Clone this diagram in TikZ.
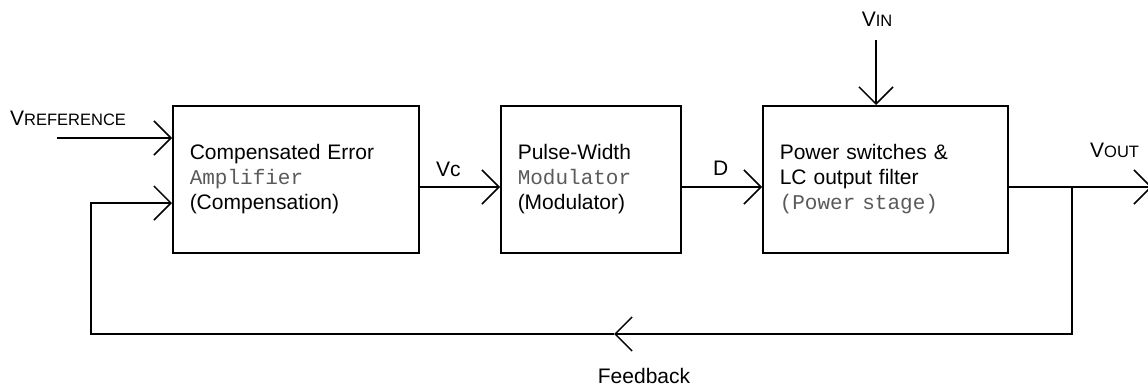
\documentclass[tikz,border=0pt]{standalone}
\usepackage{fontspec}
\setmainfont{Liberation Sans}
\setmonofont{Liberation Mono}
\usetikzlibrary{arrows.meta}
\definecolor{monogray}{HTML}{5A5A5A}
% monospaced second line inside the blocks
\newcommand{\mono}[1]{{\ttfamily\color{monogray}#1}}
% signal name: large initial V followed by a smaller word
\newcommand{\sig}[2]{{\fontsize{21}{25}\selectfont #1}{\fontsize{16.5}{20}\selectfont #2}}

\begin{document}
\begin{tikzpicture}[x=1pt,y=-1pt,
  every node/.style={font=\fontsize{21}{25}\selectfont},
  block/.style={draw, line width=1.5pt, minimum height=147pt, inner xsep=17pt,
    inner ysep=0pt, align=left, anchor=north west},
  wire/.style={line width=1.5pt},
  tip/.style={-{Straight Barb[length=17pt,width=34pt]}},
  lbl/.style={anchor=base west, inner sep=0pt}]

\useasboundingbox (0,0) rectangle (1148,388);

% the three blocks of the loop
\node[block, text width=212pt, minimum width=246pt] (comp) at (172,105)
  {Compensated Error\\\mono{Amplifier}\\(Compensation)};
\node[block, text width=146pt, minimum width=180pt] (pwm) at (500,105)
  {Pulse-Width\\\mono{Modulator}\\(Modulator)};
\node[block, text width=211pt, minimum width=245pt] (power) at (762,105)
  {Power switches \&\\LC output filter\\\mono{(Power stage)}};

% signal rows and routing points
\coordinate (vrefs) at (57,138);
\coordinate (row)   at (0,187);
\coordinate (vin)   at (876,40);
\coordinate (br)    at (1072,187);
\coordinate (vout)  at (1152,187);
\coordinate (fbr)   at (1072,334);
\coordinate (fbm)   at (614,334);
\coordinate (fbl)   at (91,334);
\coordinate (fbu)   at (91,203);

% forward path
\draw[wire,tip] (vrefs) -- (vrefs -| comp.west);
\draw[wire,tip] (comp.east |- row) -- (pwm.west |- row);
\draw[wire,tip] (pwm.east |- row) -- (power.west |- row);
\draw[wire,tip] (vin) -- (vin |- power.north);
\draw[wire,tip] (power.east |- row) -- (vout);

% feedback loop
\draw[wire,tip] (br) -- (fbr) -- (fbm);
\draw[wire,tip] (fbm) -- (fbl) -- (fbu) -- (fbu -| comp.west);

% labels
\node[lbl] (vrefl) at (10,125) {\sig{V}{REFERENCE}};
\node[lbl, anchor=base] (vinl) at (877,27) {\sig{V}{IN}};
\node[lbl] (voutl) at (1090,157) {\sig{V}{OUT}};
\node[lbl] (vcl) at (436,176) {Vc};
\node[lbl] (dl) at (713,175) {D};
\node[lbl, anchor=base] (fbtext) at (644,383) {Feedback};
\end{tikzpicture}
\end{document}
